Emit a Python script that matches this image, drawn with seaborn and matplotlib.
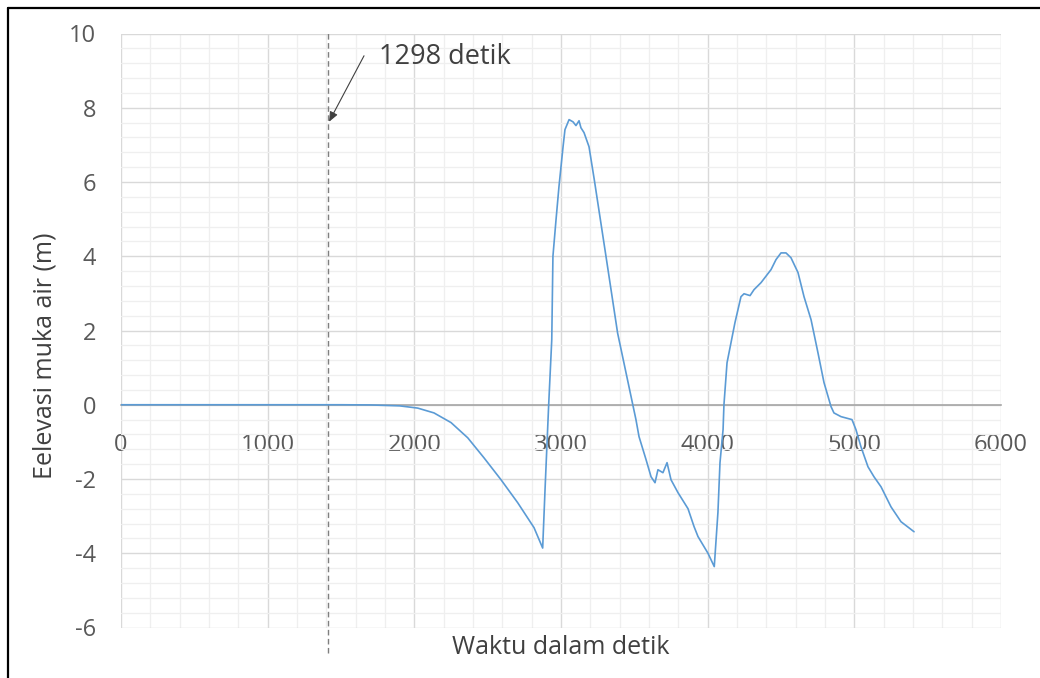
import matplotlib
matplotlib.use('Agg')
import matplotlib.pyplot as plt
from matplotlib.lines import Line2D
from matplotlib.ticker import MultipleLocator
import seaborn as sns

# waktu (detik) dan elevasi muka air (m)
waktu = [0, 500, 1000, 1500, 1700, 1900, 2023, 2134, 2250, 2364, 2475, 2591,
         2705, 2816, 2875, 2891, 2916, 2937, 2945, 2966, 2986, 3014, 3027,
         3055, 3082, 3102, 3123, 3136, 3157, 3191, 3227, 3307, 3386, 3511,
         3532, 3580, 3614, 3641, 3661, 3695, 3723, 3750, 3798, 3866, 3907,
         3934, 4002, 4045, 4070, 4084, 4105, 4111, 4132, 4159, 4186, 4227,
         4248, 4289, 4316, 4364, 4432, 4466, 4500, 4534, 4568, 4616, 4657,
         4705, 4752, 4793, 4841, 4861, 4909, 4984, 5011, 5045, 5093, 5134,
         5182, 5250, 5318, 5407]
elevasi = [0.0, 0.0, 0.0, 0.0, -0.005, -0.03, -0.09, -0.22, -0.48, -0.89, -1.43,
           -2.02, -2.64, -3.31, -3.86, -2.3, 0.0, 1.75, 4.0, 4.98, 5.87, 6.95,
           7.41, 7.68, 7.62, 7.52, 7.65, 7.46, 7.33, 6.95, 6.06, 3.99, 1.93,
           -0.40, -0.86, -1.48, -1.94, -2.1, -1.75, -1.83, -1.56, -2.02, -2.37,
           -2.8, -3.28, -3.55, -4.0, -4.36, -2.9, -1.56, -0.67, 0.0, 1.13, 1.67,
           2.21, 2.91, 2.99, 2.94, 3.1, 3.29, 3.64, 3.91, 4.09, 4.09, 3.96,
           3.56, 2.91, 2.29, 1.4, 0.6, -0.05, -0.22, -0.32, -0.4, -0.67, -1.13,
           -1.67, -1.94, -2.21, -2.75, -3.15, -3.42]

x_ticks = [0, 1000, 2000, 3000, 4000, 5000, 6000]
y_ticks = [-6, -4, -2, 0, 2, 4, 6, 8, 10]
waktu_penanda = 1410
label_penanda = '1298 detik'

sns.set_style('white')
plt.rcParams['font.family'] = ['Open Sans', 'DejaVu Sans']
plt.rcParams['axes.unicode_minus'] = False

fig = plt.figure(figsize=(10.4, 6.78), dpi=100)
ax = fig.add_axes([121 / 1040, 1 - 627.5 / 678, 880 / 1040, 594 / 678])

sns.lineplot(x=waktu, y=elevasi, ax=ax, color='#5B9BD5', linewidth=1.2,
             sort=False, zorder=5)

ax.set_xlim(0, 6000)
ax.set_ylim(-6, 10)
ax.set_xticks(x_ticks)
ax.set_yticks(y_ticks)
ax.xaxis.set_minor_locator(MultipleLocator(200))
ax.yaxis.set_minor_locator(MultipleLocator(0.4))
ax.grid(True, which='major', color='#d9d9d9', linewidth=1.0, zorder=0)
ax.grid(True, which='minor', color='#efefef', linewidth=0.9, zorder=0)
ax.set_axisbelow(True)

for s in ['top', 'right', 'left']:
    ax.spines[s].set_visible(False)
ax.spines['bottom'].set_position(('data', 0))
ax.spines['bottom'].set_color('#a6a6a6')
ax.spines['bottom'].set_linewidth(1.2)

ax.tick_params(axis='both', which='both', length=0, labelsize=17,
               labelcolor='#595959')
ax.tick_params(axis='x', pad=20)
ax.tick_params(axis='y', pad=18)

ax.set_xlabel('Waktu dalam detik', fontsize=18, color='#404040', va='center')
ax.xaxis.set_label_coords(0.5, -0.033)
ax.set_ylabel('Eelevasi muka air (m)', fontsize=18, color='#404040', va='center')
ax.yaxis.set_label_coords(-0.086, 0.458)

# garis penanda waktu
ax.axvline(waktu_penanda, ymin=-0.043, ymax=1.005, color='#7f7f7f',
           linestyle=(0, (4, 2.5)), linewidth=1.0, clip_on=False, zorder=4)
ax.annotate('', xy=(1418, 7.62), xytext=(1657, 9.4),
            arrowprops=dict(arrowstyle='-|>,head_length=0.6,head_width=0.25',
                            color='#404040', lw=0.8, shrinkA=0, shrinkB=0))
ax.text(1759, 9.37, label_penanda, fontsize=19.5, color='#404040',
        va='center', ha='left')

# bingkai luar
fig.add_artist(Line2D([8 / 1040, 8 / 1040], [0, 1 - 8 / 678],
                      transform=fig.transFigure, color='black', lw=1.6))
fig.add_artist(Line2D([8 / 1040, 1], [1 - 8 / 678, 1 - 8 / 678],
                      transform=fig.transFigure, color='black', lw=1.6))

fig.savefig('out.png', dpi=100)
plt.close(fig)
